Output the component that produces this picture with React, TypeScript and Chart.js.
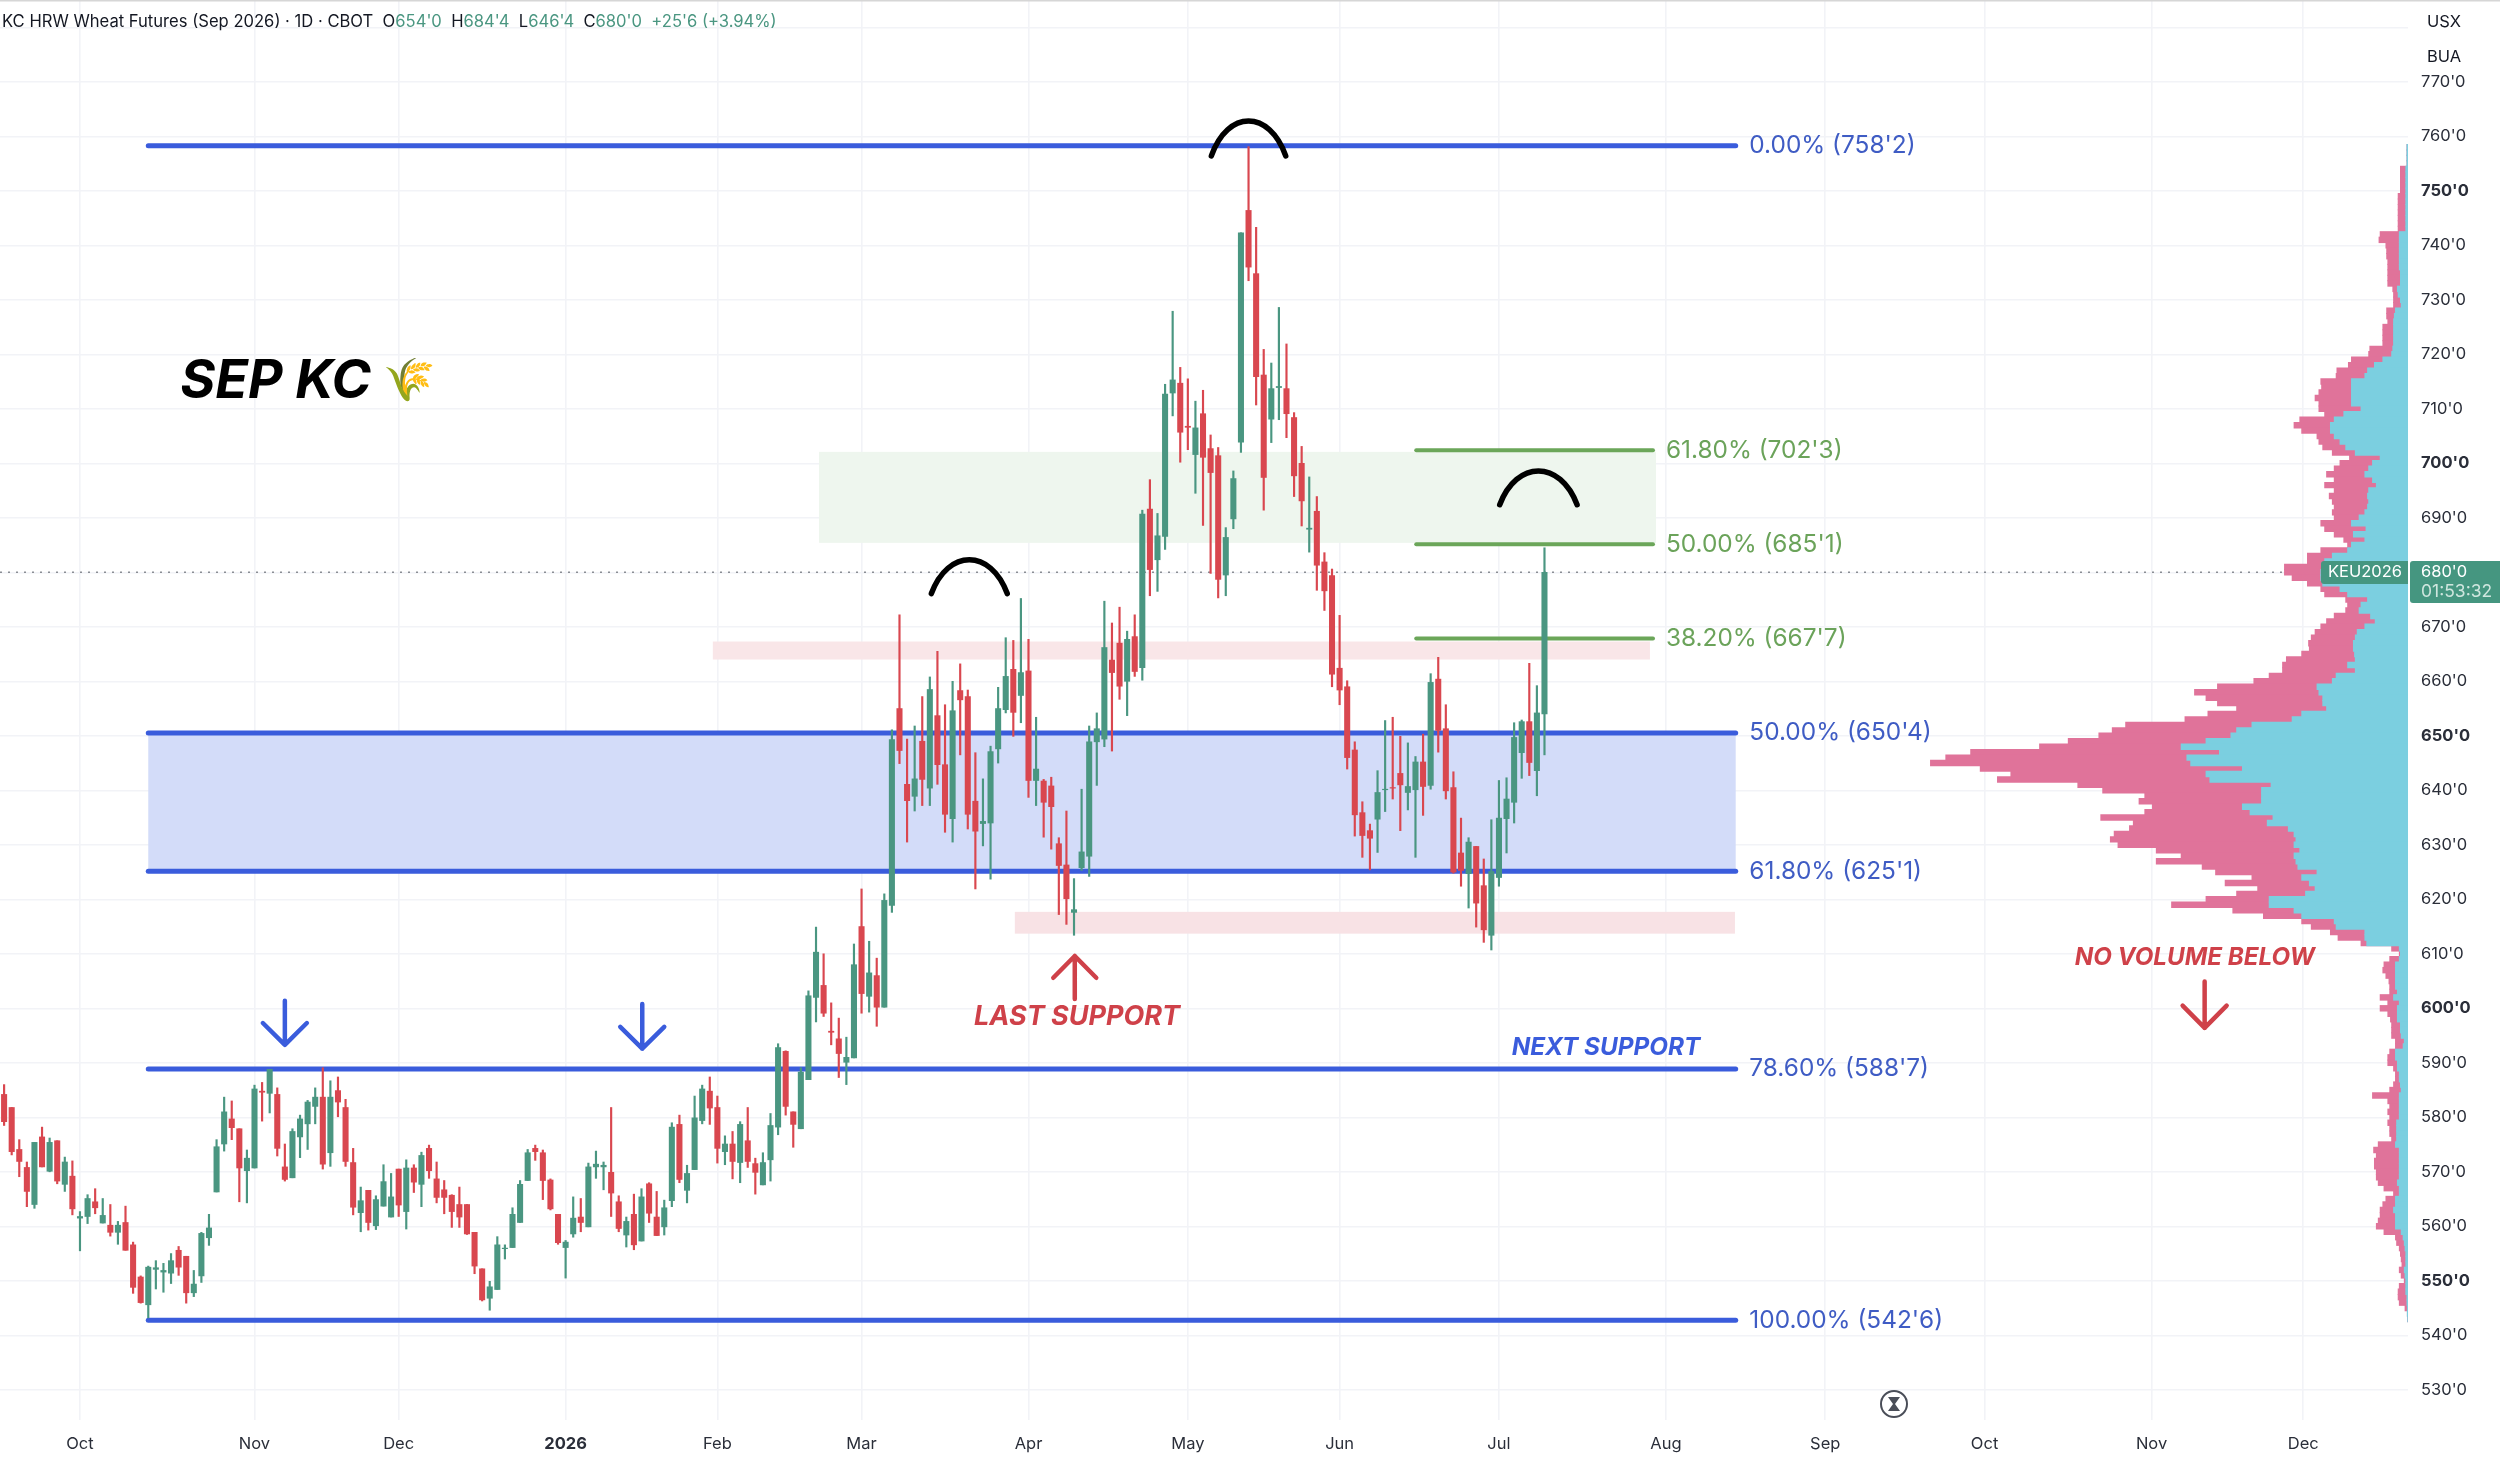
import React, { useEffect, useRef } from "react";
import { Chart, registerables } from "chart.js";

Chart.register(...registerables);

const opens = [584.2,581.8,574.1,570.8,564.0,576.4,570.1,575.7,567.7,569.2,561.5,561.8,564.5,560.6,560.2,558.9,560.7,556.6,550.7,545.6,552.1,551.6,551.4,555.6,554.5,547.8,550.9,557.9,566.3,575.1,579.7,577.9,570.2,570.7,584.8,584.4,584.2,570.9,568.9,576.4,578.8,582.0,583.7,573.5,584.9,581.8,571.7,562.5,566.6,560.1,563.7,561.7,570.5,562.7,570.7,567.7,574.3,568.7,566.7,565.7,564.0,564.0,558.9,552.2,546.8,548.4,555.9,556.1,560.7,568.4,574.3,573.5,568.5,562.2,556.1,558.6,561.7,559.9,570.9,570.9,569.9,564.5,558.4,562.2,557.3,567.8,561.7,559.9,564.7,578.7,566.6,570.4,579.4,584.8,581.8,573.7,575.1,571.7,575.7,571.5,567.6,572.2,578.2,592.1,581.0,577.9,586.9,602.0,604.2,595.8,594.4,590.1,590.9,615.0,602.2,606.0,600.2,618.9,655.0,641.1,638.9,649.0,640.4,653.7,644.7,634.8,658.3,657.2,638.0,633.9,634.0,647.6,654.8,662.2,657.4,661.9,641.8,641.7,640.8,630.2,626.3,617.6,625.8,627.9,648.9,649.4,663.9,667.0,660.0,668.2,662.5,691.6,682.3,686.6,712.9,714.7,706.8,701.6,709.1,702.7,701.4,679.5,689.8,703.9,746.4,734.8,716.2,708.1,713.9,713.7,708.4,700.0,687.9,691.2,681.9,679.4,662.4,659.0,647.4,635.9,632.6,634.7,640.1,640.5,643.1,639.6,640.1,645.2,640.9,660.4,651.3,640.5,628.5,624.7,629.7,622.5,613.4,624.0,634.8,637.8,646.9,652.6,643.6,654.0];
const highs = [586.0,581.8,575.9,571.8,575.4,578.2,576.2,575.7,572.7,572.0,562.7,565.8,566.9,565.1,564.0,560.9,563.7,557.1,550.9,552.7,553.7,553.2,555.0,556.3,554.5,551.9,558.9,562.2,575.9,583.7,583.0,577.9,574.0,585.9,586.4,588.8,585.4,575.1,577.9,580.4,583.1,585.4,589.1,586.7,587.4,583.3,574.3,567.2,566.6,565.6,571.3,569.7,570.5,572.2,571.3,573.6,574.9,571.8,568.4,565.8,567.2,564.0,558.9,552.2,549.9,558.1,556.6,563.4,568.4,574.1,574.9,574.0,568.7,562.2,557.4,565.4,565.1,571.6,573.8,571.8,581.8,565.6,561.7,565.9,566.9,568.0,566.4,564.8,579.0,580.4,571.2,583.9,585.9,587.4,583.9,576.6,577.4,579.2,581.8,572.5,573.5,580.7,593.5,592.2,581.0,589.1,603.2,614.9,610.0,601.0,598.2,594.7,611.8,621.9,612.3,609.2,621.0,651.1,672.2,649.4,651.8,657.2,660.8,665.5,655.7,660.0,663.2,658.4,646.9,642.1,648.1,658.9,668.0,667.5,675.2,667.7,653.4,642.0,642.4,631.3,636.2,623.8,640.2,651.8,654.2,674.7,670.7,673.6,669.2,672.2,691.4,697.0,690.8,714.5,727.9,717.6,715.5,711.4,713.4,705.2,702.9,688.2,698.6,742.3,758.1,743.3,720.9,718.4,728.6,721.9,709.3,703.1,697.5,693.9,683.6,680.6,672.1,660.1,648.9,637.9,633.8,643.6,652.8,653.4,649.9,648.7,646.2,650.3,661.4,664.4,655.7,643.4,634.9,631.3,629.7,627.4,634.6,641.8,642.3,652.4,652.9,663.3,659.2,684.5];
const lows = [578.5,573.1,569.1,563.6,563.3,570.9,570.0,567.8,566.4,562.1,555.5,560.5,562.3,560.6,558.2,556.7,555.6,547.7,545.9,543.2,548.5,547.9,549.5,551.0,545.9,547.1,549.7,556.5,566.3,573.8,575.9,564.5,564.3,570.7,579.3,580.8,572.9,568.3,568.9,572.6,574.1,578.8,570.5,571.0,580.1,571.0,562.1,559.0,559.3,559.4,563.7,561.7,561.8,559.5,566.2,563.6,568.8,564.3,562.3,559.8,559.8,558.5,551.3,546.3,544.6,548.4,554.0,556.1,560.7,568.4,572.1,564.9,563.0,556.7,550.5,558.0,559.0,559.9,568.8,566.7,561.8,559.0,556.2,555.7,557.3,560.7,558.3,558.4,563.6,568.0,564.3,570.4,578.8,578.7,571.6,571.3,568.7,568.0,570.8,565.9,567.6,568.3,576.8,580.4,574.5,577.9,586.9,597.5,598.5,593.3,587.3,586.0,590.9,599.1,599.3,596.7,600.2,617.6,644.9,630.5,636.2,637.2,637.2,641.1,632.3,630.5,646.5,632.9,621.9,629.8,623.7,645.0,654.2,649.9,652.4,638.7,637.2,631.4,629.2,617.2,615.4,613.4,625.3,624.2,640.9,648.0,647.2,656.7,653.7,660.9,660.2,675.7,676.5,684.2,708.7,700.2,702.5,694.5,688.6,679.8,675.3,675.7,688.0,702.0,733.5,710.7,691.4,703.8,708.0,704.7,693.9,688.5,683.7,676.7,673.0,659.0,655.7,643.9,631.6,627.7,625.4,628.6,636.1,638.4,632.6,636.4,627.7,635.4,640.2,647.0,638.4,624.8,622.4,618.4,614.9,612.1,610.7,622.4,628.5,634.0,642.2,642.7,639.0,646.5];
const closes = [579.2,573.7,571.9,566.4,575.4,570.9,575.4,568.3,571.8,563.2,561.8,565.1,563.4,562.0,558.9,560.2,555.6,548.8,546.0,552.5,552.4,551.9,553.7,552.5,547.8,549.4,558.7,559.7,574.6,581.0,578.1,570.7,572.5,585.2,584.6,588.8,574.3,568.6,577.4,579.7,582.8,583.7,571.4,583.7,582.8,571.9,563.5,564.7,560.7,564.9,568.2,565.4,563.9,570.7,568.1,573.0,570.2,565.3,565.3,562.7,561.7,558.6,552.7,546.5,548.9,556.6,556.0,562.2,567.7,573.5,573.7,568.4,563.2,557.0,557.1,561.5,560.7,570.9,571.4,571.2,566.1,559.6,560.9,556.6,565.4,562.4,558.3,563.4,578.2,568.6,569.7,579.9,585.2,581.7,574.3,575.1,571.9,578.7,571.9,569.9,571.7,578.5,592.8,582.0,578.7,588.3,602.3,610.3,599.1,595.6,591.7,591.0,608.0,602.7,606.5,600.2,619.8,649.3,647.3,638.1,642.1,642.0,658.5,644.7,635.6,654.6,656.6,635.6,632.5,634.3,647.1,655.0,660.9,654.3,661.6,641.8,643.9,637.8,637.0,626.2,620.1,618.1,628.7,648.9,651.3,666.2,661.6,659.1,667.7,661.8,690.7,680.5,686.7,712.7,715.3,705.7,706.6,706.5,701.1,698.3,678.7,686.4,697.2,742.3,736.0,715.9,697.4,713.7,714.1,709.1,697.7,693.1,688.1,681.3,676.6,661.3,658.4,646.0,635.5,631.7,631.2,639.6,640.2,640.4,641.0,640.7,645.2,640.7,659.8,651.0,639.9,625.0,625.3,630.5,619.3,614.4,625.1,634.9,638.4,649.7,652.6,645.1,654.2,680.0];

const monthTickIndex = [10,33,52,74,94,113,135,156,176,197,219,240,261,283,303];
const monthTickLabels = ["Oct","Nov","Dec","2026","Feb","Mar","Apr","May","Jun","Jul","Aug","Sep","Oct","Nov","Dec"];

const profilePrices = [758,757,756,755,754,753,752,751,750,749,748,747,746,745,744,743,742,741,740,739,738,737,736,735,734,733,732,731,730,729,728,727,726,725,724,723,722,721,720,719,718,717,716,715,714,713,712,711,710,709,708,707,706,705,704,703,702,701,700,699,698,697,696,695,694,693,692,691,690,689,688,687,686,685,684,683,682,681,680,679,678,677,676,675,674,673,672,671,670,669,668,667,666,665,664,663,662,661,660,659,658,657,656,655,654,653,652,651,650,649,648,647,646,645,644,643,642,641,640,639,638,637,636,635,634,633,632,631,630,629,628,627,626,625,624,623,622,621,620,619,618,617,616,615,614,613,612,611,610,609,608,607,606,605,604,603,602,601,600,599,598,597,596,595,594,593,592,591,590,589,588,587,586,585,584,583,582,581,580,579,578,577,576,575,574,573,572,571,570,569,568,567,566,565,564,563,562,561,560,559,558,557,556,555,554,553,552,551,550,549,548,547,546,545,544,543];
const profileTotal = [3,3,3,3,20,20,20,20,20,26,26,26,26,26,26,26,73,76,58,56,56,53,53,53,53,53,40,38,38,38,56,56,53,66,66,66,66,100,103,148,156,186,188,228,226,233,243,233,233,218,283,298,278,238,233,223,198,153,178,193,213,193,218,193,206,198,193,198,193,228,218,193,168,158,228,263,263,323,323,303,263,228,218,163,158,163,193,213,228,243,253,260,258,278,318,328,328,363,403,498,558,528,498,448,523,583,738,773,808,888,963,1143,1208,1248,1118,1038,1073,863,798,688,703,668,688,803,718,728,768,778,758,658,593,658,538,503,408,478,393,448,528,618,458,378,278,253,203,183,123,43,23,48,63,66,58,50,48,48,73,53,73,53,46,43,43,43,33,33,48,53,53,38,33,33,38,48,93,53,48,53,48,53,48,48,43,78,90,83,88,88,83,83,78,63,38,58,66,73,73,78,83,63,33,30,23,20,18,16,23,18,10,23,26,26,23,8,2,1];
const profileUp = [3,3,3,3,6,6,6,6,6,6,6,6,6,6,6,6,23,23,23,23,23,23,23,20,20,20,28,26,20,18,33,36,38,38,38,38,38,40,43,66,88,106,113,148,148,148,148,148,123,168,193,203,203,193,178,163,138,73,93,103,113,93,83,103,106,103,106,113,128,148,110,143,113,148,158,198,218,218,228,228,223,178,158,106,123,128,98,86,113,133,138,143,143,140,138,158,138,188,198,238,233,223,223,213,278,303,408,448,463,528,593,493,578,568,433,528,518,358,383,383,383,433,413,353,368,313,298,293,298,283,298,293,288,238,278,258,243,268,363,363,298,278,193,188,113,113,108,23,20,23,33,33,33,33,33,28,38,23,28,28,28,20,20,18,10,13,33,33,28,28,23,23,20,18,23,23,23,23,23,30,30,30,30,33,23,23,23,23,23,23,28,23,23,33,33,38,33,33,33,18,13,10,8,6,6,6,10,8,6,6,6,3,3,2,2,1];

const blueFibPrices = [758.25,650.5,625.125,588.875,542.75];
const blueFibLabels = ["0.00% (758'2)","50.00% (650'4)","61.80% (625'1)","78.60% (588'7)","100.00% (542'6)"];
const blueFibSpan = [19,228.2];
const greenFibPrices = [702.375,685.125,667.875];
const greenFibLabels = ["61.80% (702'3)","50.00% (685'1)","38.20% (667'7)"];
const greenFibSpan = [186.1,217.3];

const BLUE = "#3a5cdc";
const GREEN_LINE = "#6ba659";
const UP = "#4a9681";
const DOWN = "#d9474f";
const RED_TEXT = "#cf4149";

const xMin = -0.54, xMax = 316.8, yMin = 524.46, yMax = 785.01;

function App() {
  const ref = useRef<HTMLCanvasElement | null>(null);
  useEffect(() => {
    const canvas = ref.current!;
    const wicks = highs.map((h, i) => ({ x: i, y: [lows[i], h] }));
    const bodies = opens.map((o, i) => ({ x: i, y: [Math.min(o, closes[i]), Math.max(o, closes[i])] }));
    const colors = opens.map((o, i) => (closes[i] >= o ? UP : DOWN));

    const fibDataset = (p: number, span: number[], color: string, width: number) => ({
      type: "line",
      data: [{ x: span[0], y: p }, { x: span[1], y: p }],
      borderColor: color,
      borderWidth: width,
      borderCapStyle: "round",
      pointRadius: 0,
      order: 3,
      xAxisID: "x",
      yAxisID: "y",
    });

    const annotations = {
      id: "annotations",
      beforeDatasetsDraw(chart: any) {
        const { ctx, scales } = chart;
        const X = (v: number) => scales.x.getPixelForValue(v);
        const Y = (v: number) => scales.y.getPixelForValue(v);
        const box = (x0: number, x1: number, p0: number, p1: number, c: string) => {
          ctx.fillStyle = c;
          ctx.fillRect(X(x0), Y(p0), X(x1) - X(x0), Y(p1) - Y(p0));
        };
        box(107.4, 217.7, 702.1, 685.4, "#eef6ee");
        box(93.4, 216.9, 667.3, 664.0, "#f9e6e8");
        box(133.2, 228.1, 617.7, 613.7, "#f8e2e5");
        box(blueFibSpan[0], blueFibSpan[1], 650.5, 625.125, "#d3dcf9");
      },
      afterDatasetsDraw(chart: any) {
        const { ctx, scales } = chart;
        const X = (v: number) => scales.x.getPixelForValue(v);
        const Y = (v: number) => scales.y.getPixelForValue(v);
        ctx.save();
        ctx.textBaseline = "middle";
        ctx.textAlign = "left";
        ctx.font = "24.4px Inter";
        ctx.fillStyle = "#3f5cc4";
        blueFibPrices.forEach((p, i) => ctx.fillText(blueFibLabels[i], X(230), Y(p)));
        ctx.fillStyle = "#6ba35a";
        greenFibPrices.forEach((p, i) => ctx.fillText(greenFibLabels[i], X(219), Y(p)));

        const arc = (a: number, b: number, base: number, apex: number) => {
          const x0 = X(a), x1 = X(b), y0 = Y(base), ya = Y(apex);
          const w = x1 - x0, h = (y0 - ya) * 4 / 3;
          ctx.beginPath();
          ctx.moveTo(x0, y0);
          ctx.bezierCurveTo(x0 + w * 0.22, y0 - h, x1 - w * 0.22, y0 - h, x1, y0);
          ctx.lineWidth = 5.5;
          ctx.lineCap = "round";
          ctx.strokeStyle = "#000";
          ctx.stroke();
        };
        arc(159.1, 168.9, 756.4, 762.8);
        arc(122.2, 132.2, 676.1, 682.3);
        arc(197.1, 207.3, 692.4, 698.6);

        const arrow = (x: number, tail: number, tip: number, wing: number, dx: number, c: string) => {
          ctx.strokeStyle = c;
          ctx.lineWidth = 4.5;
          ctx.lineCap = "round";
          ctx.lineJoin = "round";
          ctx.beginPath();
          ctx.moveTo(X(x), Y(tail));
          ctx.lineTo(X(x), Y(tip));
          ctx.moveTo(X(x - dx), Y(wing));
          ctx.lineTo(X(x), Y(tip));
          ctx.lineTo(X(x + dx), Y(wing));
          ctx.stroke();
        };
        arrow(37.0, 601.4, 593.3, 597.3, 2.9, BLUE);
        arrow(84.1, 600.8, 592.6, 596.6, 2.9, BLUE);
        arrow(141.1, 601.7, 609.6, 605.6, 2.83, RED_TEXT);
        arrow(290.0, 604.9, 596.4, 600.5, 2.9, RED_TEXT);

        ctx.textAlign = "left";
        ctx.fillStyle = "#000";
        ctx.font = "italic bold 53.5px Inter";
        ctx.fillText("SEP KC", X(23.2), Y(715.0));
        ctx.font = "42px 'Noto Color Emoji', 'Noto Sans', sans-serif";
        ctx.fillText("🌾", X(50.0), Y(715.0));

        ctx.textAlign = "center";
        ctx.font = "italic bold 27px Inter";
        ctx.fillStyle = RED_TEXT;
        ctx.fillText("LAST SUPPORT", X(141.4), Y(598.4));
        ctx.font = "italic bold 24.2px Inter";
        ctx.fillText("NO VOLUME BELOW", X(288.7), Y(609.3));
        ctx.fillStyle = BLUE;
        ctx.font = "italic bold 24.3px Inter";
        ctx.fillText("NEXT SUPPORT", X(211.1), Y(592.7));

        // top rule
        ctx.fillStyle = "#d6d6d6";
        ctx.fillRect(0, 0, 2500, 1.5);

        // header
        ctx.textAlign = "left";
        ctx.font = "16.6px Inter";
        let tx = 2;
        const parts: [string, string][] = [
          ["KC HRW Wheat Futures (Sep 2026) · 1D · CBOT  O", "#131722"],
          ["654'0", UP], ["  H", "#131722"], ["684'4", UP], ["  L", "#131722"], ["646'4", UP],
          ["  C", "#131722"], ["680'0", UP], ["  +25'6 (+3.94%)", UP],
        ];
        parts.forEach(([t, c]) => {
          ctx.fillStyle = c;
          ctx.fillText(t, tx, 22);
          tx += ctx.measureText(t).width;
        });

        // currency box
        ctx.fillStyle = "#fff";
        ctx.beginPath();
        ctx.roundRect(2413, 5, 87, 69, 6);
        ctx.fill();
        ctx.fillStyle = "#131722";
        ctx.font = "16.5px Inter";
        ctx.fillText("USX", 2427, 22);
        ctx.fillText("BUA", 2427, 57);

        // price tags
        ctx.fillStyle = "#459680";
        ctx.beginPath();
        ctx.roundRect(2321, 561, 87, 23, [3, 0, 0, 3]);
        ctx.fill();
        ctx.beginPath();
        ctx.roundRect(2410, 561, 90, 42, [3, 0, 0, 3]);
        ctx.fill();
        ctx.fillStyle = "#fff";
        ctx.font = "16.5px Inter";
        ctx.fillText("KEU2026", 2328, 572.5);
        ctx.font = "16.5px Inter";
        ctx.fillText("680'0", 2421, 572.5);
        ctx.fillStyle = "#cfe6de";
        ctx.font = "17.5px Inter";
        ctx.fillText("01:53:32", 2421, 592);

        // replay icon
        const ix = 1894, iy = 1404;
        ctx.strokeStyle = "#4a4e58";
        ctx.lineWidth = 2;
        ctx.beginPath();
        ctx.arc(ix, iy, 13, 0, Math.PI * 2);
        ctx.stroke();
        ctx.fillStyle = "#4a4e58";
        ctx.beginPath();
        ctx.moveTo(ix - 6, iy - 7);
        ctx.lineTo(ix + 6, iy - 7);
        ctx.lineTo(ix + 1, iy);
        ctx.lineTo(ix + 6, iy + 7);
        ctx.lineTo(ix - 6, iy + 7);
        ctx.lineTo(ix - 1, iy);
        ctx.closePath();
        ctx.fill();
        ctx.restore();
      },
    };

    const chart = new Chart(canvas, {
      type: "bar",
      data: {
        datasets: [
          { type: "bar", data: bodies, backgroundColor: colors, barThickness: 5.4, grouped: false, order: 1, xAxisID: "x", yAxisID: "y", borderSkipped: false, borderWidth: 0 },
          { type: "bar", data: wicks, backgroundColor: colors, barThickness: 1.5, grouped: false, order: 2, xAxisID: "x", yAxisID: "y", borderSkipped: false, borderWidth: 0 },
          ...blueFibPrices.map((p) => fibDataset(p, blueFibSpan, BLUE, 5)),
          ...greenFibPrices.map((p) => fibDataset(p, greenFibSpan, GREEN_LINE, 4)),
          { type: "bar", indexAxis: "y", data: profilePrices.map((p, i) => ({ x: profileUp[i], y: p })), backgroundColor: "#7bcfe0", barThickness: 5.8, grouped: false, order: 4, xAxisID: "xv", yAxisID: "y", borderWidth: 0 },
          { type: "bar", indexAxis: "y", data: profilePrices.map((p, i) => ({ x: profileTotal[i], y: p })), backgroundColor: "#e0739a", barThickness: 5.8, grouped: false, order: 5, xAxisID: "xv", yAxisID: "y", borderWidth: 0 },
          { type: "line", data: [{ x: xMin, y: closes[closes.length - 1] }, { x: xMax, y: closes[closes.length - 1] }], borderColor: "#8a8d94", borderWidth: 1.6, borderDash: [2, 6], pointRadius: 0, order: 6, xAxisID: "x", yAxisID: "y" },
        ],
      } as any,
      plugins: [annotations],
      options: {
        animation: false,
        responsive: false,
        devicePixelRatio: 1,
        events: [],
        layout: { padding: 0 },
        plugins: { legend: { display: false }, tooltip: { enabled: false }, title: { display: false } },
        scales: {
          x: {
            type: "linear",
            offset: false,
            min: xMin,
            max: xMax,
            grid: { color: "#f2f3f7", lineWidth: 1.6, drawTicks: false, offset: false },
            border: { display: false },
            afterBuildTicks: (s: any) => { s.ticks = monthTickIndex.map((value) => ({ value })); },
            afterFit: (s: any) => { s.height = 39; s.paddingLeft = 0; s.paddingRight = 0; },
            ticks: {
              autoSkip: false,
              maxRotation: 0,
              minRotation: 0,
              padding: 14,
              color: "#2a2e39",
              font: (c: any) => ({ family: "Inter", size: 16.5, weight: c.tick && c.tick.value === 74 ? "bold" : "normal" }),
              callback: (_v: any, i: number) => monthTickLabels[i],
            },
          },
          xv: { type: "linear", axis: "x", offset: false, min: 0, max: 6292, reverse: true, display: false, grid: { offset: false } },
          y: {
            type: "linear",
            position: "right",
            offset: false,
            min: yMin,
            max: yMax,
            grid: { color: "#f2f3f7", lineWidth: 1.6, drawTicks: false, offset: false },
            border: { display: false },
            afterFit: (s: any) => { s.width = 92; s.paddingTop = 0; s.paddingBottom = 0; },
            ticks: {
              stepSize: 10,
              includeBounds: false,
              autoSkip: false,
              padding: 13,
              color: "#2a2e39",
              font: (c: any) => ({ family: "Inter", size: 16.5, weight: c.tick && c.tick.value % 50 === 0 ? "bold" : "normal" }),
              callback: (v: any) => `${v}'0`,
            },
          },
        },
      } as any,
    });
    return () => chart.destroy();
  }, []);
  return (
    <div style={{ position: "absolute", left: 0, top: 0, width: 2500, height: 1459, background: "#fff" }}>
      <canvas ref={ref} width={2500} height={1459} style={{ display: "block", width: 2500, height: 1459 }} />
    </div>
  );
}

export default App;
